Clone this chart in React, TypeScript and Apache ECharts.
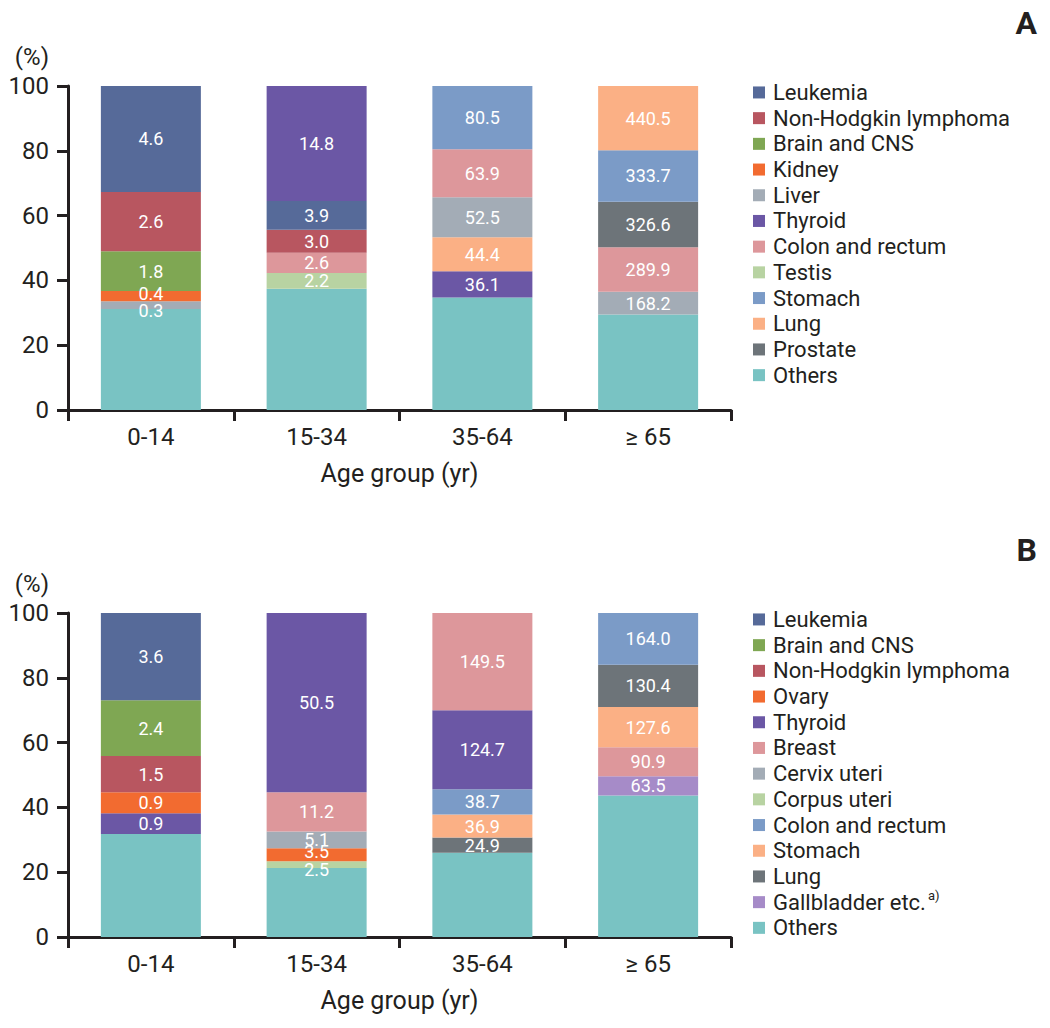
import React, { useEffect, useRef } from "react";
import * as echarts from "echarts";

// ---------- data ----------
const categories = ["0-14", "15-34", "35-64", "≥ 65"];

// Panel A (male): legend order and colours
const legendA = [
  "Leukemia", "Non-Hodgkin lymphoma", "Brain and CNS", "Kidney", "Liver", "Thyroid",
  "Colon and rectum", "Testis", "Stomach", "Lung", "Prostate", "Others",
];
const legendAColors = [
  "#566a99", "#b85660", "#7fa753", "#f26b30", "#a3acb6", "#6b57a5",
  "#dd979b", "#b8d3a2", "#7b9bc7", "#fbb085", "#6d7479", "#79c3c3",
];
// stacked segments, bottom -> top, per age group
const maleTypes = [
  ["Others", "Liver", "Kidney", "Brain and CNS", "Non-Hodgkin lymphoma", "Leukemia"],
  ["Others", "Testis", "Colon and rectum", "Non-Hodgkin lymphoma", "Leukemia", "Thyroid"],
  ["Others", "Thyroid", "Lung", "Liver", "Colon and rectum", "Stomach"],
  ["Others", "Liver", "Colon and rectum", "Prostate", "Stomach", "Lung"],
];
const malePct = [
  [31.2, 2.4, 3.1, 12.3, 18.3, 32.7],
  [37.4, 4.9, 6.2, 7.1, 8.9, 35.5],
  [34.7, 8.1, 10.5, 12.4, 14.8, 19.5],
  [29.5, 7.0, 13.7, 14.1, 15.9, 19.8],
];
const maleRates = [
  [null, 0.3, 0.4, 1.8, 2.6, 4.6],
  [null, 2.2, 2.6, 3.0, 3.9, 14.8],
  [null, 36.1, 44.4, 52.5, 63.9, 80.5],
  [null, 168.2, 289.9, 326.6, 333.7, 440.5],
];

// Panel B (female)
const legendB = [
  "Leukemia", "Brain and CNS", "Non-Hodgkin lymphoma", "Ovary", "Thyroid", "Breast",
  "Cervix uteri", "Corpus uteri", "Colon and rectum", "Stomach", "Lung", "Gallbladder etc.", "Others",
];
const legendBColors = [
  "#566a99", "#7fa753", "#b85660", "#f26b30", "#6b57a5", "#dd979b",
  "#a3acb6", "#b8d3a2", "#7b9bc7", "#fbb085", "#6d7479", "#a68bc8", "#79c3c3",
];
const femaleTypes = [
  ["Others", "Thyroid", "Ovary", "Non-Hodgkin lymphoma", "Brain and CNS", "Leukemia"],
  ["Others", "Corpus uteri", "Ovary", "Cervix uteri", "Breast", "Thyroid"],
  ["Others", "Lung", "Stomach", "Colon and rectum", "Thyroid", "Breast"],
  ["Others", "Gallbladder etc.", "Breast", "Stomach", "Lung", "Colon and rectum"],
];
const femalePct = [
  [31.8, 6.4, 6.5, 11.2, 17.2, 26.9],
  [21.3, 2.1, 4.0, 5.2, 12.1, 55.3],
  [26.0, 4.7, 7.1, 7.8, 24.4, 30.0],
  [43.7, 5.9, 9.0, 12.4, 13.0, 16.0],
];
const femaleRates = [
  [null, 0.9, 0.9, 1.5, 2.4, 3.6],
  [null, 2.5, 3.5, 5.1, 11.2, 50.5],
  [null, 24.9, 36.9, 38.7, 124.7, 149.5],
  [null, 63.5, 90.9, 127.6, 130.4, 164.0],
];

// ---------- styling ----------
const FONT = 'Roboto, "Liberation Sans", sans-serif';
const INK = "#231f20";

function panelSeries(
  key: string,
  idx: number,
  types: string[][],
  pct: number[][],
  rates: (number | null)[][],
  names: string[],
  colors: string[]
) {
  const colorOf = (n: string) => colors[names.indexOf(n)];
  const out: any[] = [];
  // legend-only series (empty data, same stack so layout is unaffected)
  names.forEach((n, i) => {
    out.push({
      type: "bar",
      name: key + ":" + n,
      stack: key,
      xAxisIndex: idx,
      yAxisIndex: idx,
      barWidth: 100,
      itemStyle: { color: colors[i] },
      data: [],
    });
  });
  // nudge labels of very thin neighbouring segments apart, as in the original
  const labelShift = (ci: number, s: number) => {
    const v = pct[ci][s];
    if (rates[ci][s] == null) return 0;
    if (v < 3) return 5;
    const below = s > 0 && rates[ci][s - 1] != null ? pct[ci][s - 1] : 99;
    if (v < 5 && below < 3) return -3;
    return 0;
  };
  const slots = Math.max(...types.map((t) => t.length));
  for (let s = 0; s < slots; s++) {
    out.push({
      type: "bar",
      name: key + "-slot" + s,
      stack: key,
      xAxisIndex: idx,
      yAxisIndex: idx,
      barWidth: 100,
      emphasis: { disabled: true },
      label: {
        show: true,
        position: "inside",
        color: "#ffffff",
        fontSize: 18,
        fontFamily: FONT,
        formatter: (p: any) =>
          p.data && p.data.rate != null ? Number(p.data.rate).toFixed(1) : "",
      },
      data: categories.map((_, ci) =>
        types[ci][s] === undefined
          ? null
          : {
              value: pct[ci][s],
              rate: rates[ci][s],
              itemStyle: { color: colorOf(types[ci][s]) },
              label: { offset: [0, labelShift(ci, s)] },
            }
      ),
    });
  }
  return out;
}

function xAxisFor(idx: number) {
  return {
    type: "category",
    gridIndex: idx,
    data: categories,
    boundaryGap: true,
    axisLine: { show: true, lineStyle: { color: INK, width: 3 } },
    axisTick: { show: true, length: 11, lineStyle: { color: INK, width: 3 } },
    axisLabel: { color: INK, fontSize: 24, fontFamily: FONT, margin: 15 },
    name: "Age group (yr)",
    nameLocation: "middle",
    nameGap: 51,
    nameTextStyle: { color: INK, fontSize: 25, fontFamily: FONT, verticalAlign: "top" },
  };
}

function yAxisFor(idx: number) {
  return {
    type: "value",
    gridIndex: idx,
    min: 0,
    max: 100,
    interval: 20,
    splitLine: { show: false },
    axisLine: { show: true, lineStyle: { color: INK, width: 3 } },
    axisTick: { show: true, length: 11, lineStyle: { color: INK, width: 3 } },
    axisLabel: { color: INK, fontSize: 24, fontFamily: FONT, margin: 19 },
    name: "(%)",
    nameLocation: "end",
    nameGap: 17,
    nameTextStyle: {
      color: INK,
      fontSize: 24,
      fontFamily: FONT,
      align: "right",
      verticalAlign: "bottom",
      padding: [0, 19, 0, 0],
    },
  };
}

function legendFor(key: string, names: string[], top: number) {
  return {
    data: names.map((n) => key + ":" + n),
    orient: "vertical",
    left: 753,
    top,
    padding: 0,
    icon: "rect",
    itemWidth: 12,
    itemHeight: 12,
    itemGap: 0,
    selectedMode: false,
    formatter: (name: string) => {
      const n = name.slice(key.length + 1);
      return n === "Gallbladder etc." ? n + "{sup|a)}" : n;
    },
    textStyle: {
      color: INK,
      fontSize: 22,
      lineHeight: 25.7,
      fontFamily: FONT,
      padding: [0, 0, 0, 3],
      rich: {
        sup: {
          fontSize: 13,
          fontFamily: FONT,
          color: INK,
          verticalAlign: "top",
          lineHeight: 25.7,
          padding: [0, 0, 8, 2],
        },
      },
    },
  };
}

export default function App() {
  const ref = useRef<HTMLDivElement>(null);
  useEffect(() => {
    if (!ref.current) return;
    const chart = echarts.init(ref.current, undefined, { renderer: "svg" });
    const option: any = {
      animation: false,
      backgroundColor: "#ffffff",
      grid: [
        { left: 68, top: 86, width: 663, height: 324, containLabel: false },
        { left: 68, top: 613, width: 663, height: 324, containLabel: false },
      ],
      xAxis: [xAxisFor(0), xAxisFor(1)],
      yAxis: [yAxisFor(0), yAxisFor(1)],
      legend: [legendFor("A", legendA, 79.6), legendFor("B", legendB, 606.6)],
      graphic: [
        {
          type: "text",
          right: 13,
          top: 7,
          style: { text: "A", font: "bold 32px " + FONT, fill: INK },
        },
        {
          type: "text",
          right: 13,
          top: 534,
          style: { text: "B", font: "bold 32px " + FONT, fill: INK },
        },
      ],
      series: [
        ...panelSeries("A", 0, maleTypes, malePct, maleRates, legendA, legendAColors),
        ...panelSeries("B", 1, femaleTypes, femalePct, femaleRates, legendB, legendBColors),
      ],
    };
    chart.setOption(option);
    return () => chart.dispose();
  }, []);
  return (
    <div
      ref={ref}
      style={{ position: "absolute", left: 0, top: 0, width: 1050, height: 1028, background: "#fff" }}
    />
  );
}
